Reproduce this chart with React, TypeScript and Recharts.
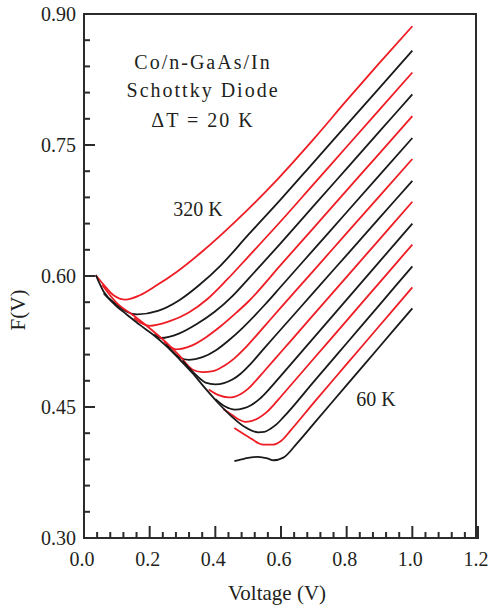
import React from 'react';
import { LineChart, Line, XAxis, YAxis, ReferenceDot, Label } from 'recharts';

type Pt = [number, number];

// ---- data ----
const f320: Pt[] = [[0.036,0.601],[0.06,0.590],[0.09,0.578],[0.127,0.573],[0.17,0.578],[0.22,0.589],[0.28,0.604],[0.36,0.628],[0.46,0.662],[0.59,0.711],[0.7,0.757],[0.8,0.801],[0.9,0.844],[1.0,0.886]];
const f300: Pt[] = [[0.036,0.601],[0.06,0.582],[0.10,0.567],[0.13,0.559],[0.162,0.556],[0.225,0.560],[0.289,0.572],[0.352,0.590],[0.416,0.612],[0.5,0.647],[0.6,0.688],[0.7,0.7305],[0.8,0.773],[0.9,0.8155],[1.0,0.858]];
const f280: Pt[] = [[0.152,0.552],[0.175,0.546],[0.20,0.543],[0.259,0.548],[0.318,0.558],[0.377,0.574],[0.436,0.596],[0.5,0.622],[0.6,0.663],[0.7,0.7055],[0.8,0.748],[0.9,0.7905],[1.0,0.833]];
const f260: Pt[] = [[0.214,0.533],[0.235,0.529],[0.289,0.534],[0.3435,0.545],[0.398,0.559],[0.452,0.577],[0.5,0.5965],[0.6,0.638],[0.7,0.6805],[0.8,0.723],[0.9,0.7655],[1.0,0.808]];
const f240: Pt[] = [[0.244,0.525],[0.262,0.519],[0.28,0.516],[0.326,0.520],[0.372,0.530],[0.418,0.543],[0.464,0.558],[0.5,0.5705],[0.6,0.613],[0.7,0.6555],[0.8,0.698],[0.9,0.7405],[1.0,0.783]];
const f220: Pt[] = [[0.25,0.522],[0.29,0.507],[0.32,0.504],[0.361,0.507],[0.402,0.515],[0.443,0.527],[0.484,0.541],[0.55,0.5668],[0.6,0.588],[0.7,0.6305],[0.8,0.673],[0.9,0.7155],[1.0,0.758]];
const f200: Pt[] = [[0.055,0.590],[0.10,0.569],[0.15,0.555],[0.21,0.537],[0.25,0.524],[0.29,0.509],[0.33,0.493],[0.36,0.490],[0.393,0.491],[0.426,0.497],[0.459,0.506],[0.492,0.518],[0.55,0.5427],[0.6,0.564],[0.7,0.6065],[0.8,0.649],[0.9,0.6915],[1.0,0.734]];
const f180: Pt[] = [[0.30,0.503],[0.34,0.487],[0.37,0.478],[0.40,0.476],[0.426,0.4774],[0.452,0.4815],[0.478,0.4884],[0.504,0.498],[0.55,0.5178],[0.6,0.539],[0.7,0.5815],[0.8,0.624],[0.9,0.6665],[1.0,0.709]];
const f160: Pt[] = [[0.38,0.470],[0.41,0.4635],[0.44,0.461],[0.46,0.462],[0.479,0.4652],[0.4985,0.4704],[0.518,0.4778],[0.55,0.4915],[0.6,0.513],[0.7,0.556],[0.8,0.599],[0.9,0.642],[1.0,0.685]];
const f140: Pt[] = [[0.40,0.459],[0.43,0.4505],[0.46,0.447],[0.485,0.4484],[0.51,0.4524],[0.535,0.4593],[0.56,0.4688],[0.6,0.486],[0.7,0.5295],[0.8,0.573],[0.9,0.6165],[1.0,0.660]];
const f120: Pt[] = [[0.424,0.448],[0.45,0.441],[0.47,0.436],[0.49,0.433],[0.5115,0.4342],[0.533,0.4377],[0.5545,0.4435],[0.576,0.4517],[0.6,0.462],[0.7,0.5055],[0.8,0.549],[0.9,0.5925],[1.0,0.636]];
const f100: Pt[] = [[0.06,0.580],[0.10,0.565],[0.13,0.556],[0.17,0.544],[0.21,0.533],[0.25,0.520],[0.29,0.505],[0.33,0.489],[0.37,0.471],[0.41,0.454],[0.45,0.439],[0.49,0.427],[0.53,0.421],[0.549,0.4214],[0.568,0.4252],[0.587,0.4304],[0.606,0.4377],[0.7,0.479],[0.8,0.523],[0.9,0.567],[1.0,0.611]];
const f80: Pt[] = [[0.458,0.426],[0.50,0.416],[0.546,0.407],[0.577,0.407],[0.60,0.411],[0.63,0.4235],[0.7,0.455],[0.8,0.499],[0.9,0.543],[1.0,0.587]];
const f60: Pt[] = [[0.458,0.388],[0.49,0.391],[0.53,0.393],[0.56,0.391],[0.577,0.389],[0.607,0.392],[0.65,0.409],[0.7,0.431],[0.8,0.475],[0.9,0.519],[1.0,0.563]];

const temperatures = ['320 K','300 K','280 K','260 K','240 K','220 K','200 K','180 K','160 K','140 K','120 K','100 K','80 K','60 K'];
const curves: Pt[][] = [f320,f300,f280,f260,f240,f220,f200,f180,f160,f140,f120,f100,f80,f60];

const xDomain = [0, 1.2];
const yDomain = [0.3, 0.9];
const xMajorTicks = [0, 0.2, 0.4, 0.6, 0.8, 1.0, 1.2];
const xAllTicks = [0,0.04,0.08,0.12,0.16,0.2,0.24,0.28,0.32,0.36,0.4,0.44,0.48,0.52,0.56,0.6,0.64,0.68,0.72,0.76,0.8,0.84,0.88,0.92,0.96,1.0,1.04,1.08,1.12,1.16,1.2];
const yMajorTicks = [0.3, 0.45, 0.6, 0.75, 0.9];
const yAllTicks = [0.3,0.33,0.36,0.39,0.42,0.45,0.48,0.51,0.54,0.57,0.6,0.63,0.66,0.69,0.72,0.75,0.78,0.81,0.84,0.87,0.9];

const titleLines = ['Co/n-GaAs/In', 'Schottky Diode', '\u0394T = 20 K'];
const hiLabel = '320 K';
const loLabel = '60 K';

// ---- layout / styles ----
const W = 489;
const H = 609;
const M_TOP = 14;
const M_RIGHT = 11;
const X_AXIS_H = 71;
const Y_AXIS_W = 84;
const PLOT_H = H - M_TOP - X_AXIS_H;
const PLOT_W = W - Y_AXIS_W - M_RIGHT;

const RED = '#ee1c24';
const BLACK = '#1a1a1a';
const AXIS = '#2b2b2b';
const TEXT = '#231f20';
const FONT = '"Liberation Serif", "Times New Roman", Times, serif';

const isMajor = (v: number, majors: number[]) => majors.some((m) => Math.abs(m - v) < 1e-6);

const YTick = (props: any) => {
  const { x, y, payload } = props;
  const v = payload.value as number;
  const major = isMajor(v, yMajorTicks);
  return (
    <g>
      <line x1={x} y1={y} x2={x + (major ? 11 : 6)} y2={y} stroke={AXIS} strokeWidth={2} />
      {major && (
        <text x={x - 8} y={y} dy="0.36em" textAnchor="end" fontSize={20} fontFamily={FONT} fill={TEXT}>
          {v.toFixed(2)}
        </text>
      )}
    </g>
  );
};

const XTick = (props: any) => {
  const { x, y, payload } = props;
  const v = payload.value as number;
  const major = isMajor(v, xMajorTicks);
  return (
    <g>
      <line x1={x} y1={y} x2={x} y2={y - (major ? 12 : 6)} stroke={AXIS} strokeWidth={2} />
      {major && (
        <text x={x - 2} y={y + 28} textAnchor="middle" fontSize={20} fontFamily={FONT} fill={TEXT}>
          {v.toFixed(1)}
        </text>
      )}
    </g>
  );
};

const XTitle = (p: any) => {
  const vb = p.viewBox;
  return (
    <text x={vb.x + vb.width / 2 - 4} y={vb.y + 62} textAnchor="middle" fontSize={21} fontFamily={FONT} fill={TEXT}>
      Voltage (V)
    </text>
  );
};

const YTitle = (p: any) => {
  const vb = p.viewBox;
  const cx = vb.x + 18;
  const cy = vb.y + vb.height / 2 + 34;
  return (
    <text x={cx} y={cy} transform={`rotate(-90, ${cx}, ${cy})`} textAnchor="middle" dominantBaseline="central" fontSize={21} fontFamily={FONT} fill={TEXT}>
      F(V)
    </text>
  );
};

const textShape = (txt: string, spacing: number) => (p: any) => (
  <text x={p.cx} y={p.cy} textAnchor="middle" fontSize={20} fontFamily={FONT} fill={TEXT} letterSpacing={spacing}>
    {txt}
  </text>
);

export default function App() {
  const axisLine = { stroke: AXIS, strokeWidth: 2, strokeLinecap: 'square' as const };
  return (
    <div style={{ position: 'relative', width: W, height: H }}>
      <style>{'html,body{margin:0;padding:0;overflow:hidden;}'}</style>
      <LineChart width={W} height={H} margin={{ top: M_TOP, right: M_RIGHT, bottom: 0, left: 0 }}>
        <XAxis
          dataKey="x"
          type="number"
          domain={xDomain}
          ticks={xAllTicks}
          interval={0}
          height={X_AXIS_H}
          tickSize={0}
          tickMargin={0}
          tickLine={false}
          axisLine={axisLine}
          tick={<XTick />}
          label={<Label content={XTitle} />}
        />
        <YAxis
          type="number"
          domain={yDomain}
          ticks={yAllTicks}
          interval={0}
          width={Y_AXIS_W}
          tickSize={0}
          tickMargin={0}
          tickLine={false}
          axisLine={axisLine}
          tick={<YTick />}
          label={<Label content={YTitle} />}
        />
        {curves.map((pts, i) => (
          <Line
            key={temperatures[i]}
            name={temperatures[i]}
            data={pts.map(([x, y]) => ({ x, y }))}
            dataKey="y"
            type="monotone"
            stroke={i % 2 === 0 ? RED : BLACK}
            strokeWidth={1.8}
            dot={false}
            activeDot={false}
            isAnimationActive={false}
          />
        ))}
        <ReferenceDot x={0.3625} y={0.837} r={0} ifOverflow="visible" shape={textShape(titleLines[0], 2)} />
        <ReferenceDot x={0.3625} y={0.805} r={0} ifOverflow="visible" shape={textShape(titleLines[1], 2)} />
        <ReferenceDot x={0.3625} y={0.7706} r={0} ifOverflow="visible" shape={textShape(titleLines[2], 2)} />
        <ReferenceDot x={0.347} y={0.6687} r={0} ifOverflow="visible" shape={textShape(hiLabel, 0)} />
        <ReferenceDot x={0.889} y={0.4511} r={0} ifOverflow="visible" shape={textShape(loLabel, 0)} />
      </LineChart>
      <div
        style={{
          position: 'absolute',
          left: Y_AXIS_W - 1,
          top: M_TOP - 1,
          width: PLOT_W,
          height: PLOT_H,
          borderTop: `2px solid ${AXIS}`,
          borderRight: `2px solid ${AXIS}`,
          boxSizing: 'border-box',
          pointerEvents: 'none',
        }}
      />
    </div>
  );
}
